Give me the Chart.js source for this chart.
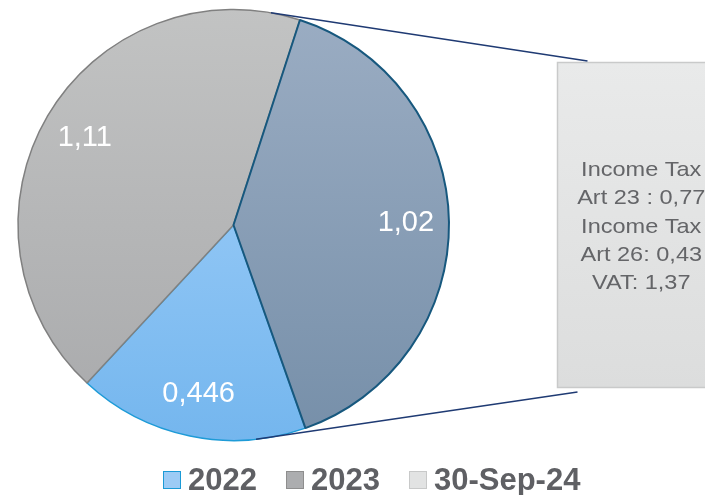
<!DOCTYPE html>
<html>
<head>
<meta charset="utf-8">
<title>Tax revenue</title>
<script src="https://cdn.jsdelivr.net/npm/chart.js@4.4.1/dist/chart.umd.min.js"></script>
<style>
  body { margin: 0; background: #fff; font-family: "Liberation Sans", Arial, sans-serif; }
  #wrap { position: relative; width: 705px; height: 495px; overflow: hidden; }
  #legend { position: absolute; left: 163px; top: 464px; display: flex; align-items: center; }
  .item { display: flex; align-items: center; margin-right: 29px; }
  .swatch { width: 16px; height: 16px; border: 1.5px solid; margin-right: 7px; }
  .txt { font-size: 31px; font-weight: bold; color: #5f6064; line-height: 31px; }
</style>
</head>
<body>
<div id="wrap">
  <canvas id="pie"></canvas>
  <div id="legend"></div>
</div>
<script>
const categories = ['2022', '2023', '30-Sep-24'];
const sliceValues = [0.446, 1.11, 1.02];
const breakdownNames = ['Income Tax\nArt 23 :', 'Income Tax\nArt 26:', 'VAT:'];
const breakdownValues = [0.77, 0.43, 1.37];

// top / bottom stops for each slice gradient
const sliceFills = [['#a9d4fb', '#74b6ee'], ['#c2c3c3', '#a8a9ab'], ['#9badc3', '#768fa9']];
const sliceBorders = ['#1e9bd7', '#808080', '#17587e'];
const legendFills = ['#9ccbf5', '#acadaf', '#e2e3e3'];
const legendBorders = ['#1a9ad6', '#8e8e8e', '#c8c9c9'];

const fmt = v => String(v).replace('.', ',');

// value labels inside the slices
const sliceLabels = {
  id: 'sliceLabels',
  afterDatasetsDraw(chart) {
    const ctx = chart.ctx;
    ctx.save();
    ctx.fillStyle = '#fff';
    ctx.font = '29px "Liberation Sans", Arial, sans-serif';
    ctx.textAlign = 'center';
    ctx.textBaseline = 'middle';
    chart.getDatasetMeta(0).data.forEach((arc, i) => {
      const p = arc.getProps(['x', 'y', 'startAngle', 'endAngle', 'outerRadius']);
      const mid = (p.startAngle + p.endAngle) / 2;
      const r = p.outerRadius * 0.8;
      ctx.fillText(fmt(sliceValues[i]), p.x + Math.cos(mid) * r, p.y + Math.sin(mid) * r);
    });
    ctx.restore();
  }
};

// breakdown box on the right plus the two connector lines
const breakdownBox = {
  id: 'breakdownBox',
  afterDraw(chart) {
    const ctx = chart.ctx;
    const arc = chart.getDatasetMeta(0).data[0];
    const { x: cx, y: cy, outerRadius: R } = arc.getProps(['x', 'y', 'outerRadius']);
    const box = { left: 557.5, top: 62.5, right: 725, bottom: 387.5 };

    ctx.save();
    const g = ctx.createLinearGradient(0, box.top, 0, box.bottom);
    g.addColorStop(0, '#e9eaea');
    g.addColorStop(1, '#dcdddd');
    ctx.fillStyle = g;
    ctx.fillRect(box.left, box.top, box.right - box.left, box.bottom - box.top);
    ctx.strokeStyle = '#c9caca';
    ctx.lineWidth = 1.5;
    ctx.strokeRect(box.left, box.top, box.right - box.left, box.bottom - box.top);

    const lines = [];
    breakdownNames.forEach((name, i) => {
      const parts = name.split('\n');
      parts[parts.length - 1] += ' ' + fmt(breakdownValues[i]);
      lines.push(...parts);
    });
    ctx.fillStyle = '#646568';
    ctx.font = '21px "Liberation Sans", Arial, sans-serif';
    ctx.textAlign = 'center';
    ctx.textBaseline = 'middle';
    const lh = 28.3;
    const tx = (box.left + box.right) / 2;
    let ty = (box.top + box.bottom) / 2 + 2 - (lines.length - 1) / 2 * lh;
    lines.forEach(line => {
      ctx.save();
      ctx.translate(tx, ty);
      ctx.scale(1.12, 1);
      ctx.fillText(line, 0, 0);
      ctx.restore();
      ty += lh;
    });

    // connectors from the pie rim to the box
    const rim = deg => {
      const a = (deg - 90) * Math.PI / 180;
      return [cx + Math.cos(a) * R, cy + Math.sin(a) * R];
    };
    ctx.strokeStyle = '#1f3a73';
    ctx.lineWidth = 1.5;
    ctx.beginPath();
    ctx.moveTo(...rim(10));
    ctx.lineTo(box.left + 30, box.top - 1.5);
    ctx.moveTo(...rim(174));
    ctx.lineTo(box.left + 20, box.bottom + 4.5);
    ctx.stroke();
    ctx.restore();
  }
};

new Chart(document.getElementById('pie'), {
  type: 'pie',
  data: {
    labels: categories,
    datasets: [{
      data: sliceValues,
      backgroundColor(c) {
        const area = c.chart.chartArea;
        const stops = sliceFills[c.dataIndex];
        if (!area) return stops[0];
        const g = c.chart.ctx.createLinearGradient(0, area.top, 0, area.bottom);
        g.addColorStop(0, stops[0]);
        g.addColorStop(1, stops[1]);
        return g;
      },
      borderColor: sliceBorders,
      borderWidth: [1.5, 1.5, 2]
    }]
  },
  options: {
    responsive: true,
    maintainAspectRatio: false,
    animation: false,
    rotation: 160.5,
    layout: { padding: { left: 17, right: 255, top: 8, bottom: 53 } },
    plugins: { legend: { display: false }, tooltip: { enabled: false } }
  },
  plugins: [sliceLabels, breakdownBox]
});

// legend row under the pie
const legend = document.getElementById('legend');
categories.forEach((cat, i) => {
  const item = document.createElement('div');
  item.className = 'item';
  const sw = document.createElement('span');
  sw.className = 'swatch';
  sw.style.background = legendFills[i];
  sw.style.borderColor = legendBorders[i];
  const txt = document.createElement('span');
  txt.className = 'txt';
  txt.textContent = cat;
  item.append(sw, txt);
  legend.appendChild(item);
});
</script>
</body>
</html>
